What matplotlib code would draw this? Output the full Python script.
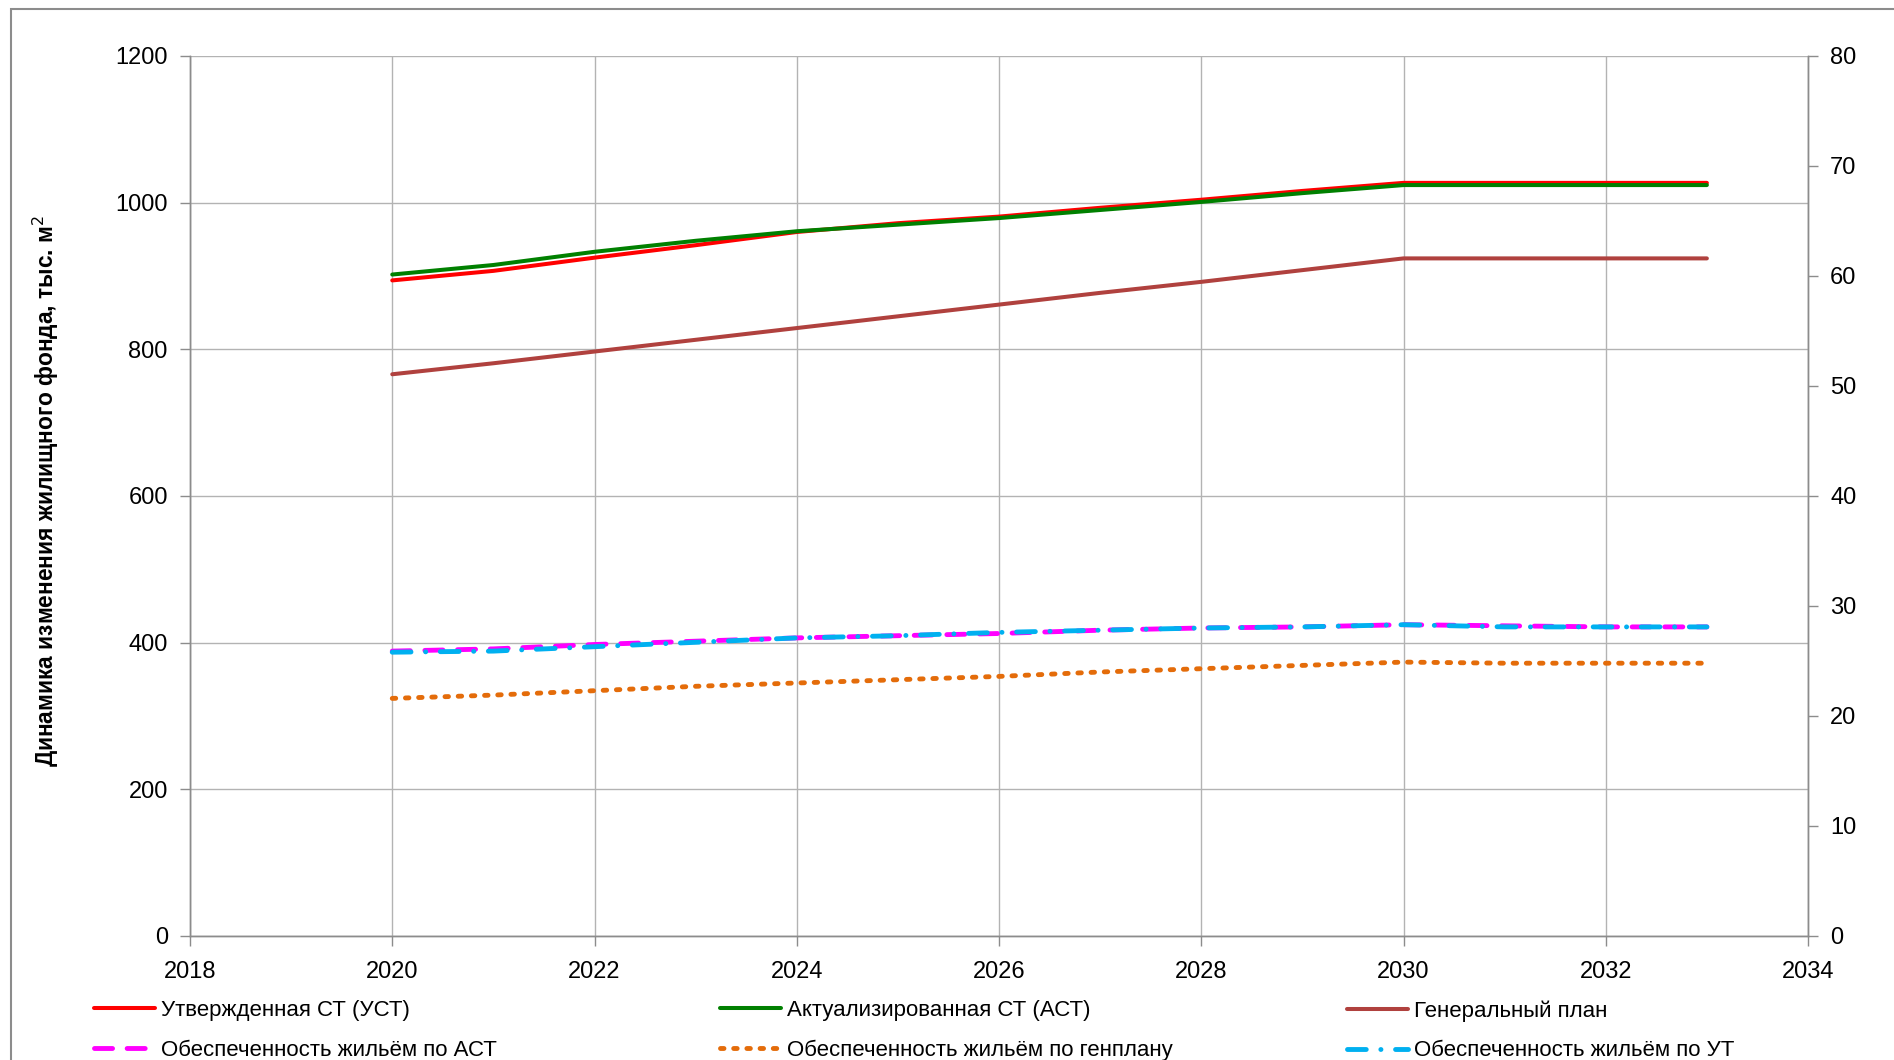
import matplotlib
matplotlib.use("Agg")
import matplotlib.pyplot as plt
from matplotlib.patches import Rectangle

plt.rcParams['font.family'] = ['Liberation Sans', 'DejaVu Sans']
plt.rcParams['lines.scale_dashes'] = False

years = [2020, 2021, 2022, 2023, 2024, 2025, 2026, 2027, 2028, 2029, 2030, 2031, 2032, 2033]

ust = [894, 907, 925, 942, 960, 972, 981, 993, 1004, 1016, 1027, 1027, 1027, 1027]
ast = [902, 915, 933, 948, 961, 970, 979, 990, 1001, 1013, 1024, 1024, 1024, 1024]
genplan = [766, 781, 797, 813, 829, 845, 861, 877, 892, 908, 924, 924, 924, 924]

prov_ast = [25.9, 26.1, 26.5, 26.8, 27.1, 27.3, 27.5, 27.8, 28.0, 28.1, 28.3, 28.2, 28.1, 28.1]
prov_genplan = [21.6, 21.9, 22.3, 22.7, 23.0, 23.3, 23.6, 24.0, 24.3, 24.6, 24.9, 24.8, 24.8, 24.8]
prov_ut = [25.8, 25.9, 26.3, 26.7, 27.1, 27.3, 27.6, 27.8, 28.0, 28.1, 28.3, 28.1, 28.1, 28.1]

labels = ["Утвержденная СТ (УСТ)", "Актуализированная СТ (АСТ)", "Генеральный план",
          "Обеспеченность жильём по АСТ", "Обеспеченность жильём по генплану",
          "Обеспеченность жильём по УТ"]

left_ticks = [0, 200, 400, 600, 800, 1000, 1200]
right_ticks = [0, 10, 20, 30, 40, 50, 60, 70, 80]
x_ticks = [2018, 2020, 2022, 2024, 2026, 2028, 2030, 2032, 2034]

W, H = 1894, 1060
fig = plt.figure(figsize=(W / 100, H / 100), dpi=100)
fig.patches.append(Rectangle((11 / W, -0.1), 1.2, 1.1 - 9 / H, transform=fig.transFigure,
                             fill=False, edgecolor='#8c8c8c', linewidth=1.5))

ax = fig.add_axes([190 / W, 1 - 936 / H, (1808 - 190) / W, (936 - 56) / H])
ax2 = ax.twinx()

grid_c = '#b3b3b3'
spine_c = '#8c8c8c'
tick_fs = 17
leg_fs = 16

l1, = ax.plot(years, ust, color='#ff0000', lw=2.9, solid_capstyle='round')
l2, = ax.plot(years, ast, color='#008000', lw=2.9, solid_capstyle='round')
l3, = ax.plot(years, genplan, color='#b0413e', lw=2.9, solid_capstyle='round')

l4, = ax2.plot(years, prov_ast, color='#ff00ff', lw=3.5, dashes=(13, 10.5), dash_capstyle='round')
l5, = ax2.plot(years, prov_genplan, color='#e46c0a', lw=3.5, dashes=(2.5, 7), dash_capstyle='round')
l6, = ax2.plot(years, prov_ut, color='#00b0f0', lw=3.5, dashes=(13.5, 10.5, 0.1, 10.5), dash_capstyle='round')

ax.set_xlim(2018, 2034)
ax.set_ylim(0, 1200)
ax2.set_ylim(0, 80)
ax.set_xticks(x_ticks)
ax.set_yticks(left_ticks)
ax2.set_yticks(right_ticks)

ax.grid(True, color=grid_c, lw=1.0)
ax.set_axisbelow(True)
for a in (ax, ax2):
    for s in a.spines.values():
        s.set_color(spine_c)
        s.set_linewidth(1.0)
    a.spines['top'].set_visible(False)
ax.tick_params(axis='y', colors=spine_c, labelcolor='black', labelsize=tick_fs, length=7, width=1.0, pad=9)
ax.tick_params(axis='x', colors=spine_c, labelcolor='black', labelsize=tick_fs, length=7, width=1.0, pad=11)
ax2.tick_params(axis='y', colors=spine_c, labelcolor='black', labelsize=tick_fs, length=7, width=1.0, pad=9)

fig.text(46 / W, 0.537, "Динамика изменения жилищного фонда, тыс. м$^2$", rotation=90,
         ha='center', va='center', fontsize=16.4, fontweight='bold')

cols = [(l1, l4, labels[0], labels[3], 94),
        (l2, l5, labels[1], labels[4], 720),
        (l3, l6, labels[2], labels[5], 1347)]
for ha_, hb_, la, lb, xpix in cols:
    leg = fig.legend([ha_, hb_], [la, lb], loc='upper left',
                     bbox_to_anchor=(xpix / W, 1 - 1000 / H), frameon=False,
                     fontsize=leg_fs, handlelength=2.75, handletextpad=0.28,
                     borderpad=0, borderaxespad=0, labelspacing=0.85)

fig.savefig("out.png", dpi=100, facecolor='white')
